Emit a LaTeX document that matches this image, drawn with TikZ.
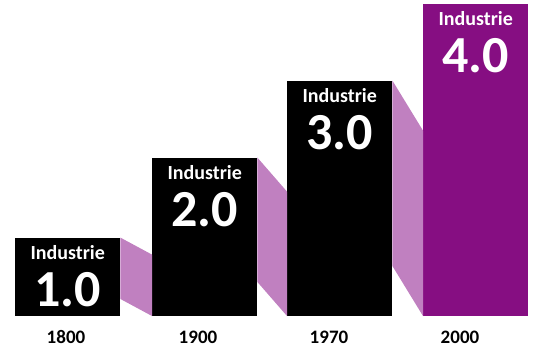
\documentclass[tikz,border=0pt]{standalone}
\usepackage{fontspec}
\setmainfont{Carlito}
\usetikzlibrary{positioning,calc}
\definecolor{indpurple}{RGB}{134,14,130}
\definecolor{linkpurple}{RGB}{192,128,192}

\begin{document}
\begin{tikzpicture}[x=1pt, y=1pt,
 bar/.style={fill=black, anchor=south west, minimum width=105pt, inner sep=0pt},
 title/.style={text=white, anchor=base, font=\bfseries\fontsize{20}{20}\selectfont},
 num/.style={text=white, anchor=base, font=\bfseries\fontsize{52}{52}\selectfont},
 year/.style={anchor=base, font=\bfseries\fontsize{19}{19}\selectfont},
 link/.style={fill=linkpurple}]
 \useasboundingbox (0,0) rectangle (540,360);
 \node[bar, minimum height=78pt] (b1) at (15, 44) {};
\node[bar, minimum height=158pt] (b2) at (152, 44) {};
\node[bar, minimum height=235pt] (b3) at (287, 44) {};
\node[bar, minimum height=312pt, fill=indpurple] (b4) at (423, 44) {};
% the slanted bands between the bars
\fill[link] (b1.north east) -- ($(b2.south west |- b1.north east)+(0,-17)$) -- (b2.south west) -- ($(b1.south east)+(0,17)$) -- cycle;
\fill[link] (b2.north east) -- ($(b3.south west |- b2.north east)+(0,-34)$) -- (b3.south west) -- ($(b2.south east)+(0,34)$) -- cycle;
\fill[link] (b3.north east) -- ($(b4.south west |- b3.north east)+(0,-50)$) -- (b4.south west) -- ($(b3.south east)+(0,50)$) -- cycle;
\node[title] (t1) at ([yshift=-22pt]b1.north) {Industrie};
\node[title] (t2) at ([yshift=-22pt]b2.north) {Industrie};
\node[title] (t3) at ([yshift=-22pt]b3.north) {Industrie};
\node[title] (t4) at ([yshift=-22pt]b4.north) {Industrie};
\node[num] (n1) at ([yshift=-69pt]b1.north) {1.0};
\node[num] (n2) at ([yshift=-69pt]b2.north) {2.0};
\node[num] (n3) at ([yshift=-69pt]b3.north) {3.0};
\node[num] (n4) at ([yshift=-69pt]b4.north) {4.0};
% years under the bars
\node[year] (y1) at (66, 17) {1800};
\node[year] (y2) at (198, 17) {1900};
\node[year] (y3) at (329, 17) {1970};
\node[year] (y4) at (460, 17) {2000};
\end{tikzpicture}
\end{document}
